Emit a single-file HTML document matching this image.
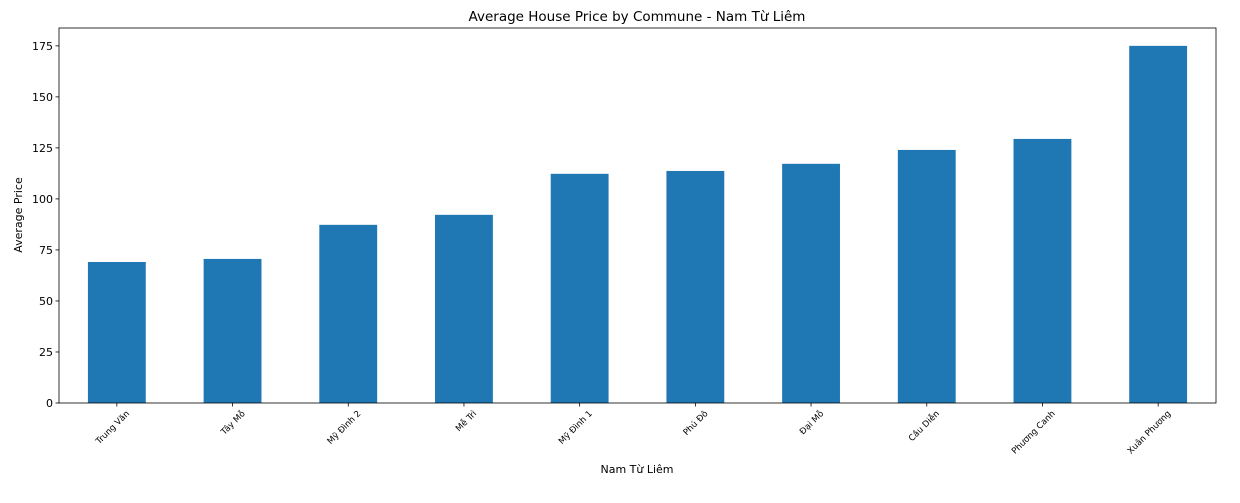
<!DOCTYPE html>
<html><head><meta charset="utf-8"><style>
body{margin:0;background:#fff}
svg{display:block;font-family:"DejaVu Sans","Liberation Sans",sans-serif}
</style></head><body>
<svg id="chart" width="1240" height="503" viewBox="0 0 1240 503">
<rect x="0" y="0" width="1240" height="503" fill="#fff"/>
<text x="637" y="21" text-anchor="middle" font-size="13.5" fill="#000">Average House Price by Commune - Nam Từ Liêm</text>
<g id="bars"></g>
<g id="axes"></g>
<text x="637" y="473" text-anchor="middle" font-size="11" fill="#000">Nam Từ Liêm</text>
<text transform="translate(22,215) rotate(-90)" text-anchor="middle" font-size="11" fill="#000">Average Price</text>
</svg>
<script>
const categories=["Trung Văn","Tây Mỗ","Mỹ Đình 2","Mễ Trì","Mỹ Đình 1","Phú Đô","Đại Mỗ","Cầu Diễn","Phương Canh","Xuân Phương"];
const values=[69.1,70.6,87.3,92.2,112.3,113.7,117.2,124.0,129.4,175.0];
const yTicks=[0,25,50,75,100,125,150,175];
const L=59,R=1216,T=28,B=403,yMax=183.75;
const NS="http://www.w3.org/2000/svg";
const xs=i=>L+(i+0.5)*(R-L)/categories.length;
const ys=v=>B-v*(B-T)/yMax;
const bw=0.5*(R-L)/categories.length;
const bars=document.getElementById('bars'),axes=document.getElementById('axes');
function mk(tag,a,p){const e=document.createElementNS(NS,tag);for(const k in a)e.setAttribute(k,a[k]);p.appendChild(e);return e;}
values.forEach((v,i)=>{
 const r=mk('rect',{x:xs(i)-bw/2,y:ys(v),width:bw,height:B-ys(v),fill:'#1f77b4'},bars);
 
 
 const t=mk('line',{x1:xs(i),x2:xs(i),y1:B,y2:B+3.5,stroke:'#000','stroke-width':0.8},axes);
 const lb=mk('text',{x:0,y:0,'text-anchor':'end','font-size':'8.6',fill:'#000',transform:`translate(${xs(i)+13},${B+11}) rotate(-45)`},axes);
 lb.textContent=categories[i];
 
 
});
yTicks.forEach(v=>{
 mk('line',{x1:L-3.5,x2:L,y1:ys(v),y2:ys(v),stroke:'#000','stroke-width':0.8},axes);
 const lb=mk('text',{x:L-6,y:ys(v)+4,'text-anchor':'end','font-size':'11',fill:'#000'},axes);
 lb.textContent=v;
 
 
});
const f=mk('rect',{x:L,y:T,width:R-L,height:B-T,fill:'none',stroke:'#000','stroke-width':0.8},axes);


</script>
</body></html>
